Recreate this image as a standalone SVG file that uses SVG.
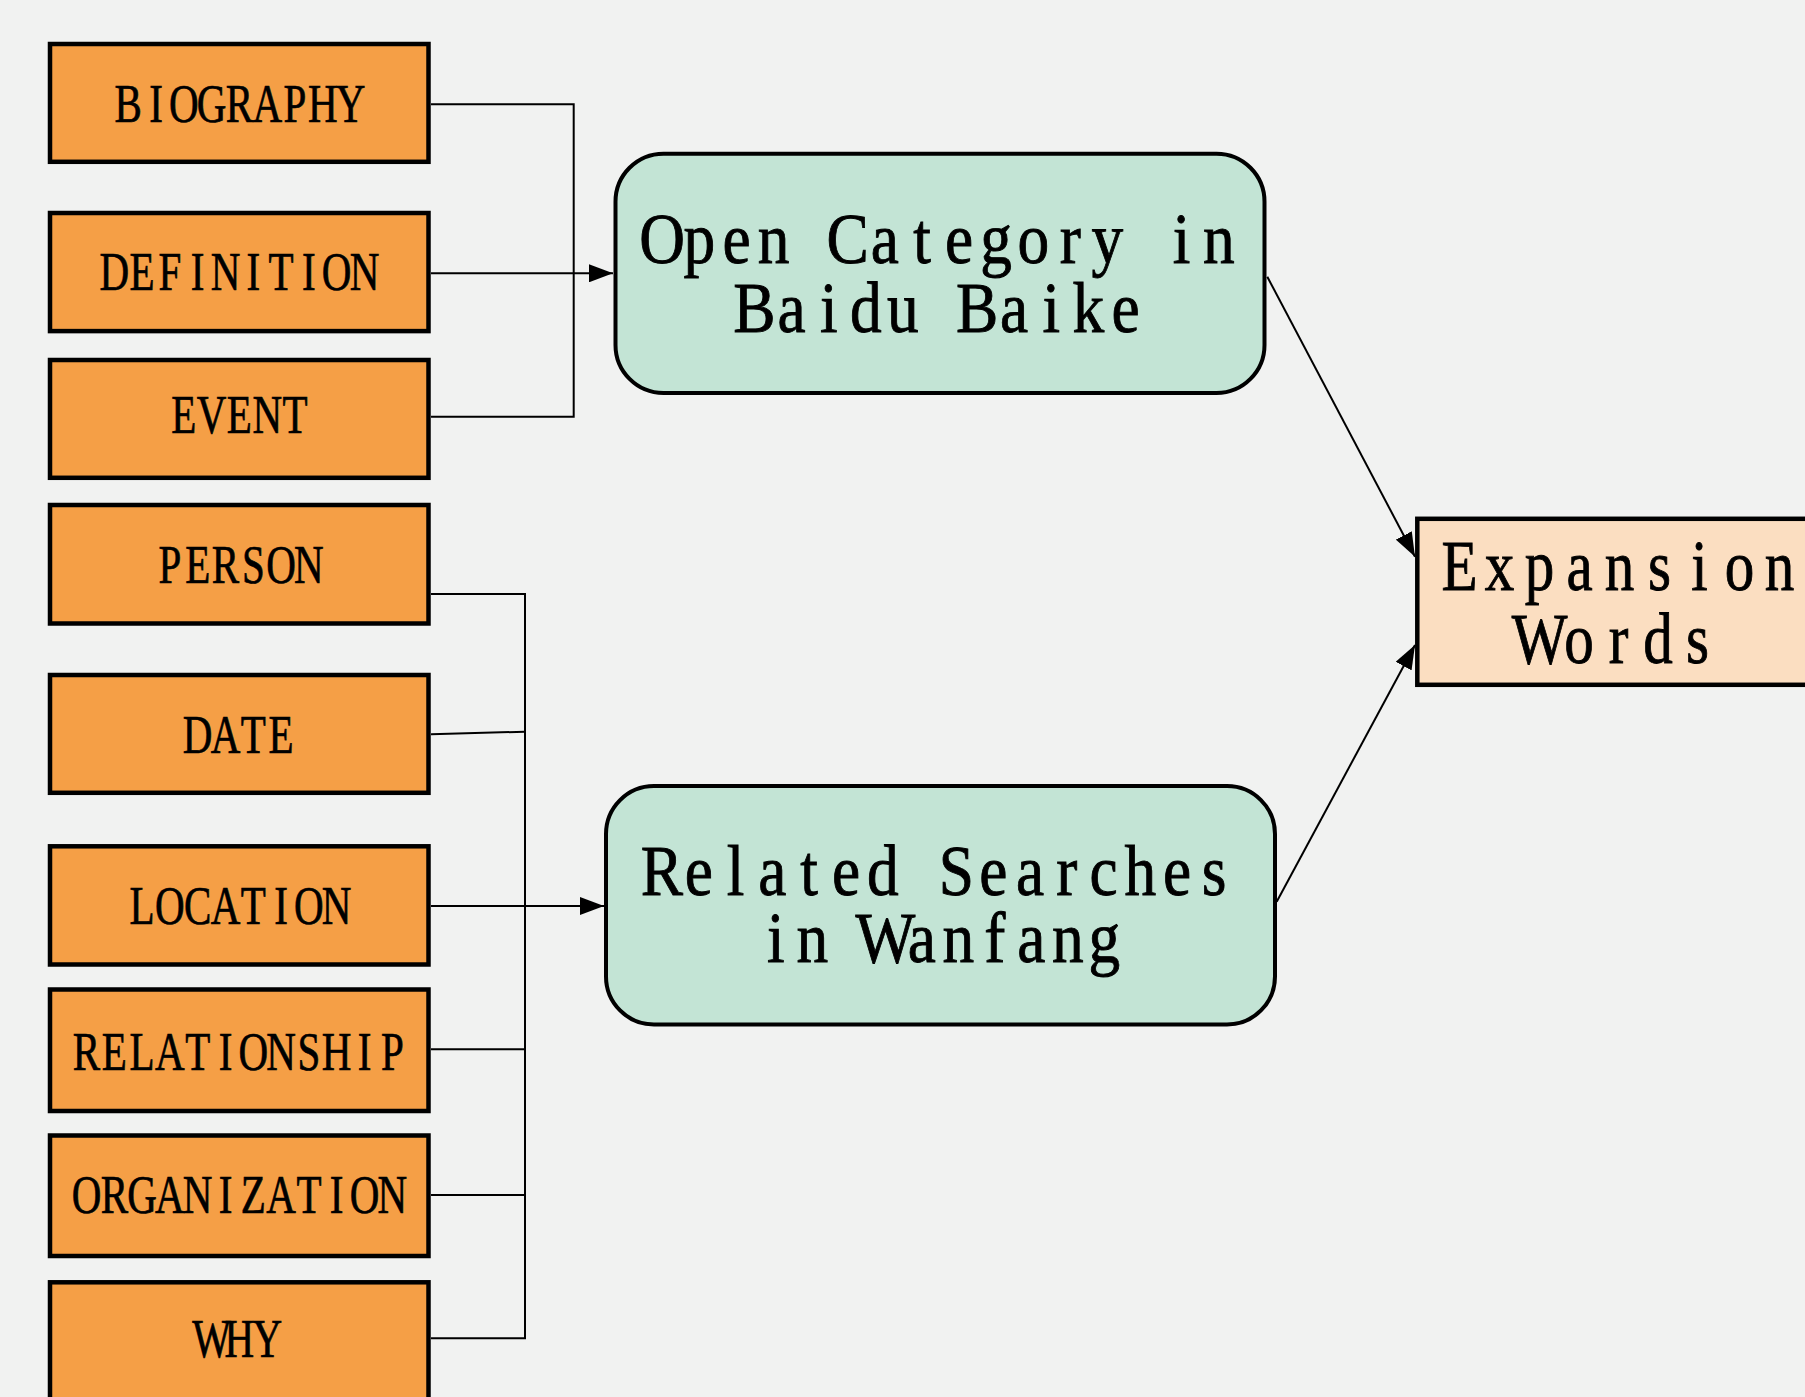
<svg xmlns="http://www.w3.org/2000/svg" width="1805" height="1397" viewBox="0 0 1805 1397">
  <defs>
    <marker id="arrow" markerUnits="userSpaceOnUse" markerWidth="24" markerHeight="18" refX="24" refY="9" orient="auto">
      <path d="M0,0 L24,9 L0,18 Z" fill="#000"/>
    </marker>
    <style>
      .cat rect { fill: #F59F46; stroke: #000; stroke-width: 4.5; }
      .src rect { fill: #C3E4D5; stroke: #000; stroke-width: 4; }
      .out rect { fill: #FBDEC1; stroke: #000; stroke-width: 4.5; }
      text { font-family: "Liberation Serif", "Times New Roman", serif; fill: #000; stroke: #000; stroke-width: 0.7; text-anchor: middle; }
      .cat text { font-size: 54px; }
      .src text, .out text { font-size: 72px; stroke-width: 0.9; }
      .edges path { fill: none; stroke: #000; stroke-width: 2; }
    </style>
  </defs>

  <rect width="1805" height="1397" fill="#F1F2F1"/>

  <!-- category boxes: each glyph sits in a fixed-width cell, condensed horizontally -->
  <g id="biography" class="cat">
    <rect x="50" y="44" width="378.5" height="117.8"/>
    <text transform="translate(239.4,121.7) scale(0.76,1)" x="-146.3 -109.7 -73.2 -36.6 0 36.6 73.2 109.7 146.3" y="0">BIOGRAPHY</text>
  </g>
  <g id="definition" class="cat">
    <rect x="50" y="213" width="378.5" height="118.1"/>
    <text transform="translate(239.4,290) scale(0.76,1)" x="-164.6 -128 -91.5 -54.9 -18.3 18.3 54.9 91.5 128 164.6" y="0">DEFINITION</text>
  </g>
  <g id="event" class="cat">
    <rect x="50" y="360" width="378.5" height="117.8"/>
    <text transform="translate(239.4,433.3) scale(0.76,1)" x="-73.2 -36.6 0 36.6 73.2" y="0">EVENT</text>
  </g>
  <g id="person" class="cat">
    <rect x="50" y="505" width="378.5" height="118.5"/>
    <text transform="translate(239.4,583.3) scale(0.76,1)" x="-91.5 -54.9 -18.3 18.3 54.9 91.5" y="0">PERSON</text>
  </g>
  <g id="date" class="cat">
    <rect x="50" y="675" width="378.5" height="117.8"/>
    <text transform="translate(239.4,752.7) scale(0.76,1)" x="-54.9 -18.3 18.3 54.9" y="0">DATE</text>
  </g>
  <g id="location" class="cat">
    <rect x="50" y="846.3" width="378.5" height="118.2"/>
    <text transform="translate(239.4,924.3) scale(0.76,1)" x="-128 -91.5 -54.9 -18.3 18.3 54.9 91.5 128" y="0">LOCATION</text>
  </g>
  <g id="relationship" class="cat">
    <rect x="50" y="989.5" width="378.5" height="121.5"/>
    <text transform="translate(239.4,1070) scale(0.76,1)" x="-201.2 -164.6 -128 -91.5 -54.9 -18.3 18.3 54.9 91.5 128 164.6 201.2" y="0">RELATIONSHIP</text>
  </g>
  <g id="organization" class="cat">
    <rect x="50" y="1135.5" width="378.5" height="120.5"/>
    <text transform="translate(239.4,1213.3) scale(0.76,1)" x="-201.2 -164.6 -128 -91.5 -54.9 -18.3 18.3 54.9 91.5 128 164.6 201.2" y="0">ORGANIZATION</text>
  </g>
  <g id="why" class="cat">
    <rect x="50" y="1282.3" width="378.5" height="122"/>
    <text transform="translate(239.4,1356.7) scale(0.76,1)" x="-36.6 0 36.6" y="0">WHY</text>
  </g>

  <!-- source boxes -->
  <g id="open-category" class="src">
    <rect x="615.5" y="153.7" width="649" height="239.3" rx="48" ry="48"/>
    <text transform="translate(940.5,263.3) scale(0.88,1)" x="-316.2 -274 -231.9 -189.7 -147.6 -105.4 -63.24 -21.08 21.08 63.24 105.4 147.6 189.7 231.9 274 316.2" y="0">Open Category in</text>
    <text transform="translate(940,331.7) scale(0.88,1)" x="-210.8 -168.6 -126.5 -84.3 -42.16 0 42.16 84.3 126.5 168.6 210.8" y="0">Baidu Baike</text>
  </g>
  <g id="related-searches" class="src">
    <rect x="606" y="786" width="669" height="238.5" rx="48" ry="48"/>
    <text transform="translate(938,895) scale(0.88,1)" x="-313.7 -271.8 -230 -188.2 -146.4 -104.55 -62.73 -20.91 20.91 62.73 104.55 146.4 188.2 230 271.8 313.7" y="0">Related Searches</text>
    <text transform="translate(940,961.7) scale(0.88,1)" x="-186.7 -145.2 -103.7 -62.2 -20.74 20.74 62.2 103.7 145.2 186.7" y="0">in Wanfang</text>
  </g>

  <!-- result box -->
  <g id="expansion-words" class="out">
    <rect x="1417.3" y="518.8" width="405" height="166"/>
    <text transform="translate(1619.5,590) scale(0.82,1)" x="-195.1 -146.3 -97.56 -48.78 0 48.78 97.56 146.3 195.1" y="0">Expansion</text>
    <text transform="translate(1618.5,662.7) scale(0.82,1)" x="-96.3 -48.17 0 48.17 96.3" y="0">Words</text>
  </g>

  <!-- connectors -->
  <g id="edges" class="edges">
    <path d="M431,104.3 H573.7 V416.7 H431"/>
    <path d="M431,273.3 H613" marker-end="url(#arrow)"/>
    <path d="M431,594 H525 V1338.3 H431"/>
    <path d="M431,734.3 L525,731.7"/>
    <path d="M431,1049.3 H525"/>
    <path d="M431,1195 H525"/>
    <path d="M431,906 H604" marker-end="url(#arrow)"/>
    <path d="M1267.3,276.7 L1415,556.7" marker-end="url(#arrow)"/>
    <path d="M1276.7,901.7 L1415,645" marker-end="url(#arrow)"/>
  </g>
</svg>
